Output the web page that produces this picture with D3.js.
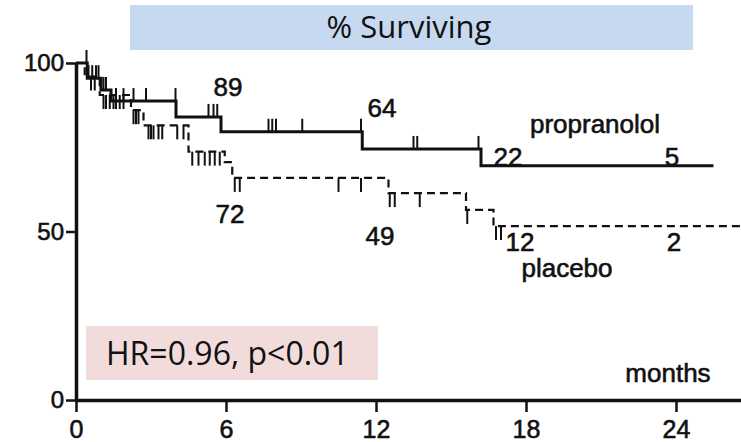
<!DOCTYPE html>
<html>
<head>
<meta charset="utf-8">
<script src="https://cdn.jsdelivr.net/npm/d3@7"></script>
<style>
  html, body { margin: 0; padding: 0; background: #fff; }
  svg { display: block; }
  .lbl { font-family: "Liberation Sans", Arial, sans-serif; fill: #111; stroke: #111; stroke-width: 0.6px; }
</style>
</head>
<body>
<svg id="chart" width="741" height="442"></svg>
<script>
// Kaplan–Meier steps: [month, % surviving]
const propranololSteps = [[0,100],[0.45,95.5],[1.0,92],[1.4,88.7],[4.0,84.0],[5.8,79.6],[11.45,74.5],[16.2,69.5]];
const propranololEnd = 25.5;
const propranololCensored = [0.42,0.5,0.65,0.8,0.9,1.1,1.2,1.6,1.9,2.3,2.8,3.98,5.3,5.5,5.65,7.7,7.85,8.0,9.05,11.4,13.5,13.65,16.1];

const placeboSteps = [[0,100],[0.35,96],[0.95,90.5],[2.2,86],[2.7,81.5],[4.5,73.7],[5.95,70.6],[6.25,65.9],[12.5,61.4],[15.6,56.4],[16.7,51.6]];
const placeboEnd = 26.6;
const placeboCensored = [0.6,0.75,1.1,1.2,1.35,1.5,1.6,1.75,1.9,2.3,2.4,2.5,2.9,3.0,3.1,3.3,3.45,4.05,4.3,4.65,4.9,5.15,5.35,5.55,5.75,6.35,6.55,10.5,11.4,12.55,12.75,13.75,15.65,16.8,17.0];

// numbers at risk
const atRiskMonths = [6, 12, 18, 24];
const propranololAtRisk = [89, 64, 22, 5];
const placeboAtRisk = [72, 49, 12, 2];

const xTicks = [0, 6, 12, 18, 24];
const yTicks = [0, 50, 100];

const svg = d3.select("#chart");
const x = d3.scaleLinear().domain([0, 26.6]).range([76, 741]);
const y = d3.scaleLinear().domain([0, 100]).range([400, 63]);

// header and annotation boxes
svg.append("rect").attr("x", 130).attr("y", 5).attr("width", 563).attr("height", 45).attr("fill", "#c6d9f0");
svg.append("text").attr("x", 409).attr("y", 38).attr("text-anchor", "middle")
  .style("font-family", "'Open Sans', 'Noto Sans', sans-serif").style("font-size", "31px").attr("fill", "#111")
  .text("% Surviving");

svg.append("rect").attr("x", 86).attr("y", 326).attr("width", 292).attr("height", 54).attr("fill", "#f2dcdb");
svg.append("text").attr("x", 106).attr("y", 365)
  .style("font-family", "'Open Sans', 'Noto Sans', sans-serif").style("font-size", "32px").attr("fill", "#111")
  .text("HR=0.96, p<0.01");

// axes
const xAxis = d3.axisBottom(x).tickValues(xTicks).tickSize(12).tickSizeOuter(0).tickPadding(8);
const gx = svg.append("g").attr("transform", `translate(0,${y(0)})`).call(xAxis);
gx.select(".domain").attr("stroke", "#111").attr("stroke-width", 3.5);
gx.selectAll(".tick line").attr("stroke", "#111").attr("stroke-width", 2.5);
gx.selectAll(".tick text").attr("class", "lbl").style("font-size", "25px");

const yAxis = d3.axisLeft(y).tickValues(yTicks).tickSize(10).tickSizeOuter(0).tickPadding(2);
const gy = svg.append("g").attr("transform", `translate(${x(0)},0)`).call(yAxis);
gy.select(".domain").attr("stroke", "#111").attr("stroke-width", 3.5);
gy.selectAll(".tick line").attr("stroke", "#111").attr("stroke-width", 2.5);
gy.selectAll(".tick text").attr("class", "lbl").style("font-size", "24px");

// survival curves
function stepPoints(steps, end) {
  const pts = steps.map(d => [d[0], d[1]]);
  pts.push([end, steps[steps.length - 1][1]]);
  return pts;
}
function survAt(steps, t) {
  let v = steps[0][1];
  for (const s of steps) if (s[0] <= t) v = s[1];
  return v;
}
const line = d3.line().x(d => x(d[0])).y(d => y(d[1])).curve(d3.curveStepAfter);

svg.append("path").datum(stepPoints(propranololSteps, propranololEnd))
  .attr("d", line).attr("fill", "none").attr("stroke", "#111").attr("stroke-width", 3);
svg.append("path").datum(stepPoints(placeboSteps, placeboEnd))
  .attr("d", line).attr("fill", "none").attr("stroke", "#111").attr("stroke-width", 2.2)
  .attr("stroke-dasharray", "8,5");

// censoring ticks: up for propranolol, down for placebo
svg.append("g").selectAll("line").data(propranololCensored).join("line")
  .attr("x1", d => x(d)).attr("x2", d => x(d))
  .attr("y1", d => y(survAt(propranololSteps, d)))
  .attr("y2", d => y(survAt(propranololSteps, d)) - 13)
  .attr("stroke", "#111").attr("stroke-width", 2);
svg.append("g").selectAll("line").data(placeboCensored).join("line")
  .attr("x1", d => x(d)).attr("x2", d => x(d))
  .attr("y1", d => y(survAt(placeboSteps, d)))
  .attr("y2", d => y(survAt(placeboSteps, d)) + 14)
  .attr("stroke", "#111").attr("stroke-width", 2);

// numbers at risk
const propLabelY = [96, 117, 166, 166];
const placLabelY = [223, 245, 251, 251];
svg.append("g").selectAll("text").data(propranololAtRisk).join("text")
  .attr("class", "lbl").attr("x", (d, i) => x(atRiskMonths[i]) + [2, 6, -18, -4][i])
  .attr("y", (d, i) => propLabelY[i]).attr("text-anchor", "middle")
  .style("font-size", "26px").text(d => d);
svg.append("g").selectAll("text").data(placeboAtRisk).join("text")
  .attr("class", "lbl").attr("x", (d, i) => x(atRiskMonths[i]) + [4, 4, -6, -2][i])
  .attr("y", (d, i) => placLabelY[i]).attr("text-anchor", "middle")
  .style("font-size", "26px").text(d => d);

// series names and axis title
svg.append("text").attr("class", "lbl").attr("x", 595).attr("y", 133).attr("text-anchor", "middle")
  .style("font-size", "26px").text("propranolol");
svg.append("text").attr("class", "lbl").attr("x", 567).attr("y", 277).attr("text-anchor", "middle")
  .style("font-size", "26px").text("placebo");
svg.append("text").attr("class", "lbl").attr("x", 668).attr("y", 382).attr("text-anchor", "middle")
  .style("font-size", "26px").text("months");
</script>
</body>
</html>
